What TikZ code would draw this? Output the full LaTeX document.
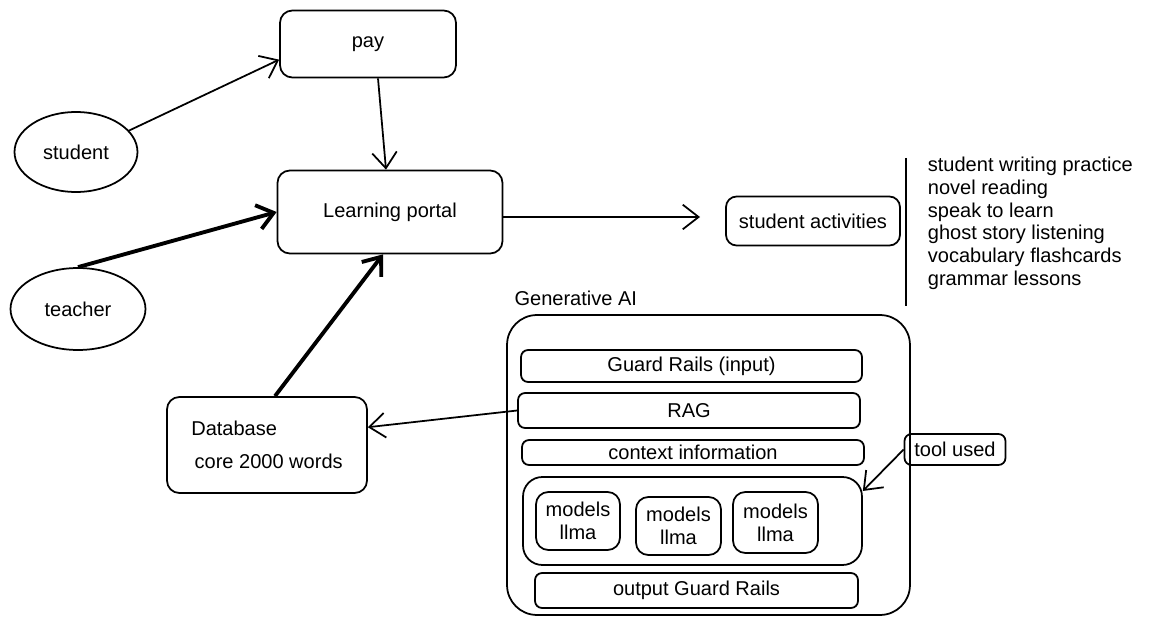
\documentclass[tikz,border=0pt]{standalone}
\usepackage{fontspec}
\setmainfont{Liberation Sans}
\usetikzlibrary{arrows.meta,calc,shapes.geometric}

\begin{document}
\begin{tikzpicture}[x=0.02cm, y=-0.02cm, >={Straight Barb[length=9pt,width=14pt]},
    line width=1pt, font=\fontsize{11.4}{13}\selectfont,
    box/.style={draw, rounded corners=7pt, inner sep=0pt},
    bar/.style={draw, rounded corners=4pt, inner sep=0pt},
    oval/.style={draw, ellipse, inner sep=0pt},
    heavy/.style={line width=2.2pt}]
  \useasboundingbox (0,0) rectangle (1171,625);

  \node[box, minimum width=3.52cm, minimum height=1.34cm] (pay) at (368,44) {pay};
  \node[oval, minimum width=2.46cm, minimum height=1.6cm] (student) at (76,152) {student};
  \node[oval, minimum width=2.7cm, minimum height=1.64cm] (teacher) at (78,309) {teacher};
  \node[box, minimum width=4.5cm, minimum height=1.66cm] (portal) at (390,212) {Learning portal};
  \node[box, rounded corners=6pt, minimum width=3.48cm, minimum height=0.98cm] (activities) at (813,221) {student activities};
  \coordinate (actin) at (700,217);

  \node[anchor=north west, align=left, inner sep=0pt] (list) at (927,156)
    {student writing practice\\ novel reading\\ speak to learn\\ ghost story listening\\ vocabulary flashcards\\ grammar lessons};
  \draw ($(list.north west)+(-21,2)$) -- ++(0,148);

  \node[box, align=left, minimum width=4cm, minimum height=1.92cm] (db) at (267,445)
    {Database\\[6pt]\,core 2000 words};

  \node[box, rounded corners=17pt, minimum width=8.06cm, minimum height=6cm] (genai) at (708.5,465) {};
  \node[anchor=south west, inner sep=2pt] (genlabel) at ($(genai.north west)+(4,-4)$) {Generative AI};
  \node[bar, minimum width=6.82cm, minimum height=0.64cm] (guardin) at (691.5,366) {Guard Rails (input)};
  \node[bar, minimum width=6.84cm, minimum height=0.7cm] (rag) at (689,410.5) {RAG};
  \node[bar, minimum width=6.84cm, minimum height=0.5cm] (context) at (693,452.5) {context information};
  \node[box, rounded corners=11pt, minimum width=6.78cm, minimum height=1.76cm] (models) at (692.5,521) {};
  \node[box, align=center, minimum width=1.68cm, minimum height=1.16cm] (llmaA) at (578,521) {models\\ llma};
  \node[box, align=center, minimum width=1.7cm, minimum height=1.16cm] (llmaB) at (678.5,526) {models\\ llma};
  \node[box, align=center, minimum width=1.7cm, minimum height=1.22cm] (llmaC) at (775.5,522.5) {models\\ llma};
  \node[bar, minimum width=6.46cm, minimum height=0.7cm] (guardout) at (696.5,590.5) {output Guard Rails};
  \node[bar, minimum width=2.02cm, minimum height=0.62cm] (tool) at (955,449.5) {tool used};

  \draw[->] (student.22) -- (pay.190);
  \draw[->] ($(pay.south)+(10,0)$) -- ($(portal.north)+(-4,0)$);
  \draw[->, heavy] (teacher.north) -- (portal.west);
  \draw[->, heavy] ($(db.north)+(8,0)$) -- ($(portal.south)+(-7,0)$);
  \draw[->] ($(portal.east)+(0,5)$) -- (actin);
  \draw[->] (rag.west) -- (db.10);
  \draw[->] (tool.west) -- (models.10);
\end{tikzpicture}
\end{document}
